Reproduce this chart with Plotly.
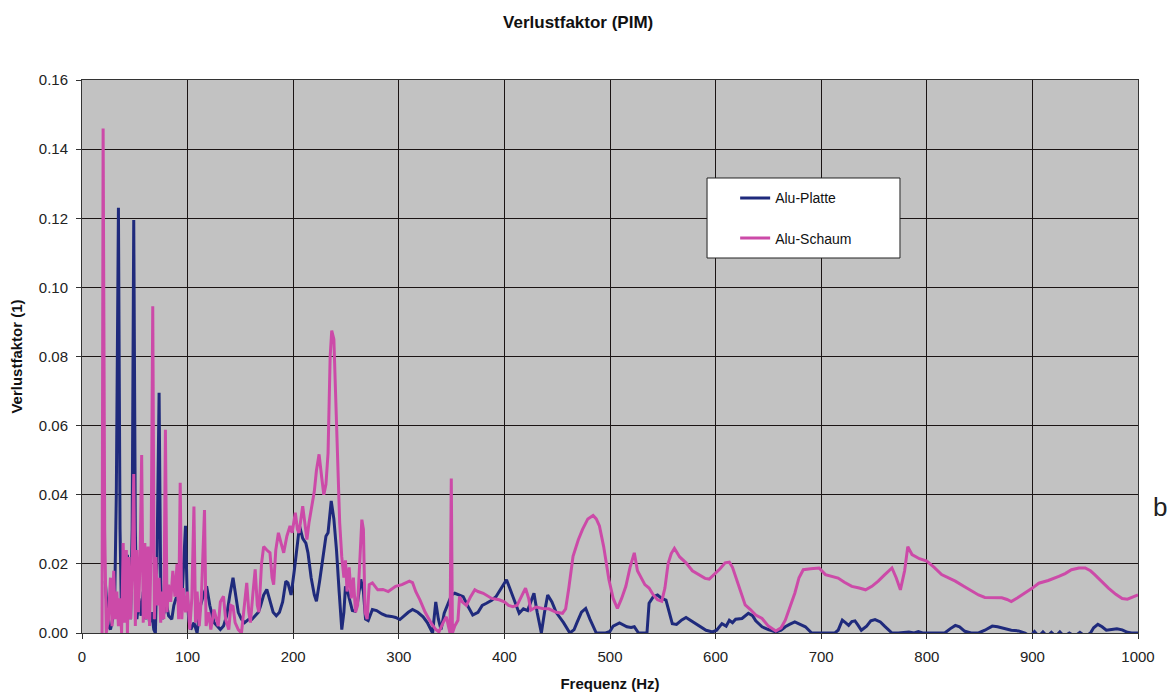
import plotly.graph_objects as go

# Loss factor spectrum (PIM) for an aluminium plate and an aluminium foam sample
platte_hz = [
    22, 23.5, 25, 27, 29, 31, 32.5, 34.5, 36, 37.5, 39, 41, 43, 44.5, 46, 47.5, 49, 50.5, 52, 54,
    56, 58, 60, 62, 64, 66, 68, 69.5, 71, 73, 74.5, 76, 78, 80, 82, 85, 87, 89, 91, 93,
    95, 96.5, 98, 99.5, 101, 103, 106, 109, 112, 115, 118, 121, 125, 128, 131, 134, 137, 140, 143, 145,
    148, 151, 154, 158, 161, 164, 167, 169, 172, 175, 178, 181, 184, 187, 190, 193, 195, 198, 201, 204,
    206, 209, 212, 214, 217, 220, 222, 225, 228, 231, 233, 236, 238.5, 241, 243.5, 246, 248, 249.5, 251.5, 254,
    256, 258.5, 261, 264, 266.5, 268.5, 271, 275, 279, 284, 288, 293, 297, 301, 305, 309, 313, 318, 323, 327,
    332, 335, 337.5, 340, 343, 347, 350, 353, 357, 361, 365, 370, 375, 379, 383, 388, 392, 395, 399, 402,
    405, 409, 414, 418, 422, 425, 428, 431, 435, 438, 441, 445, 449, 452, 456, 462, 466, 469, 473, 477,
    481, 487, 492, 496, 500, 503, 509, 513, 516, 520, 523, 527, 532, 535, 537, 541, 545, 549, 553, 556,
    559, 563, 568, 572, 577, 584, 591, 597, 601, 606, 610, 613, 616, 619, 625, 631, 635, 638, 644, 650,
    657, 662, 666, 670, 675, 680, 685, 691, 696, 704, 713, 716, 720, 723, 726, 729, 732, 735, 738, 743,
    747, 751, 756, 760, 764, 767, 773, 778, 783, 788, 792, 796, 800, 808, 817, 822, 827, 831, 836, 842,
    849, 855, 862, 867, 874, 880, 887, 893, 898, 902, 906, 910, 914, 918, 922, 926, 930, 935, 940, 945,
    950, 955, 958, 962, 966, 970, 975, 980, 985, 990, 994, 1000,
]
platte_eta = [
    0.015, 0.008, 0.002, 0.001, 0.004, 0.010, 0.040, 0.123, 0.030, 0.003, 0.006, 0.015, 0.0226, 0.010, 0.004, 0.030, 0.1195, 0.030, 0.004, 0.010,
    0.005, 0.012, 0.004, 0.008, 0.003, 0.006, 0.001, 0.000, 0.020, 0.0695, 0.015, 0.004, 0.006, 0.0085, 0.005, 0.004, 0.008, 0.010, 0.0105, 0.006,
    0.012, 0.022, 0.031, 0.012, 0.004, 0.001, 0.003, 0.000, 0.0077, 0.011, 0.0135, 0.008, 0.003, 0.002, 0.001, 0.002, 0.005, 0.011, 0.016, 0.012,
    0.006, 0.004, 0.003, 0.004, 0.004, 0.005, 0.006, 0.0077, 0.011, 0.0126, 0.009, 0.006, 0.005, 0.006, 0.009, 0.015, 0.0145, 0.011, 0.018, 0.027,
    0.031, 0.0274, 0.026, 0.0232, 0.016, 0.011, 0.0092, 0.015, 0.022, 0.028, 0.029, 0.0382, 0.033, 0.024, 0.012, 0.001, 0.006, 0.0135, 0.012, 0.009,
    0.0065, 0.0063, 0.009, 0.0155, 0.012, 0.004, 0.0036, 0.0068, 0.0065, 0.0055, 0.005, 0.0048, 0.0045, 0.0039, 0.005, 0.006, 0.0068, 0.006, 0.0047, 0.003,
    0.000, 0.009, 0.004, 0.001, 0.0057, 0.009, 0.011, 0.0115, 0.011, 0.0105, 0.008, 0.0052, 0.006, 0.008, 0.0086, 0.0095, 0.0105, 0.012, 0.014, 0.0154,
    0.013, 0.0096, 0.0057, 0.007, 0.0065, 0.009, 0.0115, 0.006, 0.000, 0.006, 0.011, 0.009, 0.006, 0.0047, 0.003, 0.000, 0.001, 0.0032, 0.006, 0.0071,
    0.004, 0.000, 0.000, 0.000, 0.0005, 0.002, 0.0029, 0.0022, 0.0018, 0.0016, 0.0018, 0.000, 0.000, 0.000, 0.0086, 0.0105, 0.011, 0.010, 0.0095, 0.0057,
    0.0027, 0.0025, 0.0038, 0.0045, 0.0035, 0.0022, 0.0008, 0.0003, 0.0008, 0.0027, 0.002, 0.0037, 0.003, 0.004, 0.0042, 0.0057, 0.005, 0.0035, 0.0018, 0.001,
    0.0003, 0.0008, 0.0018, 0.0025, 0.0032, 0.0025, 0.0018, 0.000, 0.000, 0.000, 0.000, 0.0008, 0.0037, 0.003, 0.0022, 0.0033, 0.0035, 0.0022, 0.0008, 0.002,
    0.0035, 0.0039, 0.0032, 0.002, 0.0008, 0.000, 0.000, 0.0002, 0.0003, 0.000, 0.0004, 0.000, 0.000, 0.000, 0.000, 0.0012, 0.0022, 0.0018, 0.0005, 0.000,
    0.000, 0.0008, 0.002, 0.0018, 0.0012, 0.0008, 0.0006, 0.000, -0.001, 0.0004, -0.001, 0.0003, -0.001, 0.0002, -0.001, 0.0003, -0.001, 0.000, -0.001, 0.0002,
    -0.001, 0.000, 0.0015, 0.0025, 0.0018, 0.0008, 0.001, 0.0012, 0.0009, 0.0002, 0.000, 0.000,
]

schaum_hz = [
    19, 20, 21.5, 23, 25, 27, 28.5, 30, 31.5, 33, 34.5, 36, 37.5, 39, 40.5, 42, 43, 44.5, 46, 47.5,
    49, 50.5, 52, 53.5, 55, 56.5, 58, 59.5, 61, 62.5, 64, 65.5, 67, 68.5, 70, 71.5, 73, 74.5, 76, 77.5,
    79, 80.5, 82, 84, 86, 88, 90, 91.5, 93, 94.5, 96, 98, 100, 102, 104, 106, 107.5, 109, 111, 113,
    116, 117.5, 120, 122, 125, 127, 129, 131, 134, 136, 139, 141, 143, 145, 148, 151, 153, 156, 158, 159.5,
    162, 164, 166, 167.5, 170, 172, 175, 178, 180, 181.5, 183.5, 186, 188.5, 191, 194, 197, 199, 202, 204, 205.5,
    209, 211, 213, 215, 217, 220, 222, 224.5, 227, 229, 231, 233, 235, 236.5, 238.5, 240, 242, 244, 246, 248,
    249.5, 251, 253, 255, 257, 259, 261, 263, 265, 266.5, 268, 270, 272, 275, 280, 285, 290, 297, 303, 310,
    313, 316, 320, 325, 331, 335, 338, 342, 345, 347, 348.5, 349.7, 350.8, 353, 356, 357.5, 360, 364, 368, 372,
    375, 380, 383, 388, 395, 400, 404, 408, 412, 416, 420, 423, 425, 430, 436, 442, 449, 455, 458, 461,
    465, 470, 474, 479, 484, 487, 490, 494, 499, 503, 507, 511, 515, 519, 523, 526, 529, 533, 537, 541,
    545, 549, 552, 555, 558, 561, 566, 572, 578, 584, 590, 594, 599, 604, 609, 613, 616, 619, 623, 628,
    633, 638, 644, 650, 657, 662, 666, 670, 675, 679, 683, 690, 698, 704, 710, 716, 722, 729, 736, 742,
    748, 754, 760, 767, 771, 775, 779, 782, 786, 793, 800, 807, 814, 820, 827, 835, 843, 849, 855, 863,
    871, 876, 880, 886, 893, 900, 906, 915, 925, 931, 937, 944, 950, 955, 959, 965, 972, 979, 985, 990,
    994, 1000,
]
schaum_eta = [
    0.000, 0.146, 0.030, 0.000, 0.004, 0.016, 0.002, 0.018, 0.004, 0.012, 0.002, 0.010, 0.000, 0.026, 0.003, 0.024, 0.000, 0.022, 0.004, 0.018,
    0.046, 0.002, 0.024, 0.006, 0.021, 0.0515, 0.003, 0.026, 0.004, 0.025, 0.002, 0.026, 0.0945, 0.004, 0.022, 0.008, 0.016, 0.003, 0.012, 0.004,
    0.0588, 0.006, 0.014, 0.009, 0.018, 0.0105, 0.020, 0.004, 0.0435, 0.004, 0.013, 0.006, 0.012, 0.001, 0.010, 0.0366, 0.003, 0.012, 0.002, 0.010,
    0.0356, 0.002, 0.006, 0.001, 0.0068, 0.004, 0.002, 0.009, 0.0106, 0.004, 0.001, 0.008, 0.0077, 0.003, 0.001, 0.000, 0.006, 0.0145, 0.006, 0.003,
    0.012, 0.0184, 0.008, 0.006, 0.020, 0.025, 0.024, 0.0232, 0.016, 0.014, 0.024, 0.029, 0.026, 0.0232, 0.028, 0.031, 0.029, 0.0348, 0.030, 0.029,
    0.0367, 0.032, 0.027, 0.032, 0.036, 0.041, 0.047, 0.0517, 0.045, 0.040, 0.043, 0.052, 0.080, 0.0875, 0.085, 0.070, 0.050, 0.032, 0.022, 0.016,
    0.021, 0.012, 0.019, 0.010, 0.016, 0.006, 0.008, 0.020, 0.0328, 0.030, 0.006, 0.004, 0.014, 0.0145, 0.0125, 0.0126, 0.012, 0.0135, 0.014, 0.015,
    0.0146, 0.012, 0.0096, 0.006, 0.0027, 0.001, 0.0003, 0.003, 0.0047, 0.002, 0.000, 0.0447, 0.000, 0.002, 0.0037, 0.0105, 0.009, 0.008, 0.0105, 0.0125,
    0.012, 0.0115, 0.011, 0.010, 0.0096, 0.009, 0.008, 0.0076, 0.008, 0.0105, 0.013, 0.010, 0.0066, 0.0075, 0.0071, 0.007, 0.006, 0.0057, 0.007, 0.013,
    0.0222, 0.027, 0.030, 0.033, 0.034, 0.033, 0.031, 0.025, 0.0154, 0.010, 0.0071, 0.010, 0.0135, 0.019, 0.0232, 0.018, 0.0164, 0.014, 0.013, 0.011,
    0.0096, 0.0092, 0.013, 0.020, 0.023, 0.0245, 0.022, 0.0203, 0.018, 0.0169, 0.0158, 0.0156, 0.017, 0.0185, 0.0203, 0.0205, 0.019, 0.0164, 0.013, 0.0081,
    0.0068, 0.0052, 0.0042, 0.002, 0.0006, 0.0015, 0.0037, 0.007, 0.0115, 0.016, 0.0183, 0.0186, 0.0188, 0.0169, 0.0165, 0.0159, 0.0147, 0.0135, 0.013, 0.0125,
    0.0135, 0.015, 0.0168, 0.0188, 0.016, 0.0125, 0.018, 0.025, 0.0227, 0.0215, 0.0208, 0.019, 0.0169, 0.016, 0.015, 0.0135, 0.012, 0.011, 0.0103, 0.0102,
    0.0102, 0.0097, 0.0091, 0.0102, 0.0115, 0.013, 0.0144, 0.0152, 0.0164, 0.0172, 0.0183, 0.0188, 0.0188, 0.018, 0.0169, 0.015, 0.013, 0.0112, 0.010, 0.0098,
    0.0102, 0.011,
]

x_ticks = [0, 100, 200, 300, 400, 500, 600, 700, 800, 900, 1000]
y_ticks = [0.00, 0.02, 0.04, 0.06, 0.08, 0.10, 0.12, 0.14, 0.16]

FONT = "Liberation Sans, Arial, sans-serif"
BLUE = "#1f2a7c"
MAGENTA = "#cc4aa8"

fig = go.Figure()
fig.add_trace(go.Scatter(
    x=platte_hz, y=platte_eta, mode="lines", name="Alu-Platte",
    line=dict(color=BLUE, width=3), legendgroup="a",
))
fig.add_trace(go.Scatter(
    x=schaum_hz, y=schaum_eta, mode="lines", name="Alu-Schaum",
    line=dict(color=MAGENTA, width=3), legendgroup="b",
))

fig.update_layout(
    width=1168, height=693,
    margin=dict(l=82, r=30, t=80, b=60),
    paper_bgcolor="white",
    plot_bgcolor="#c2c2c2",
    font=dict(family=FONT, size=15, color="#222"),
    title=dict(text="<b>Verlustfaktor (PIM)</b>", x=0.495, xanchor="center",
               y=0.968, yanchor="middle", font=dict(size=17, color="#111")),
    showlegend=True,
    legend=dict(
        x=0.592, y=0.815, xanchor="left", yanchor="top",
        bgcolor="rgba(0,0,0,0)", borderwidth=0,
        font=dict(size=14, color="#111"),
        tracegroupgap=19, traceorder="grouped",
        indentation=28,
    ),
    xaxis=dict(
        range=[0, 1000], tickvals=x_ticks, ticktext=[str(v) for v in x_ticks],
        showgrid=True, gridcolor="#1a1414", gridwidth=1,
        showline=True, linecolor="#333", linewidth=1, mirror=True,
        ticks="outside", ticklen=5, tickcolor="#333", zeroline=False,
        ticklabelstandoff=5, tickfont=dict(size=15), automargin=False,
        title=dict(text="<b>Frequenz (Hz)</b>", font=dict(size=15, color="#111"), standoff=14),
    ),
    yaxis=dict(
        range=[0, 0.16], tickvals=y_ticks, ticktext=[f"{v:.2f}" for v in y_ticks],
        showgrid=True, gridcolor="#1a1414", gridwidth=1,
        showline=True, linecolor="#333", linewidth=1, mirror=True,
        ticks="outside", ticklen=5, tickcolor="#333", zeroline=False,
        ticklabelstandoff=5, tickfont=dict(size=15), automargin=False,
        title=dict(text="<b>Verlustfaktor (1)</b>", font=dict(size=15, color="#111"), standoff=12),
    ),
)

# White framed box behind the legend entries
fig.add_shape(
    type="rect", xref="paper", yref="paper",
    x0=0.5919, x1=0.7746, y0=0.6781, y1=0.8228,
    fillcolor="white", line=dict(color="#222", width=1), layer="above",
)

fig.add_annotation(
    text="b", xref="paper", yref="paper", x=1.0125, y=0.228,
    xanchor="left", yanchor="middle", showarrow=False,
    font=dict(family=FONT, size=26, color="#222"),
)

fig.write_html("out.html")
